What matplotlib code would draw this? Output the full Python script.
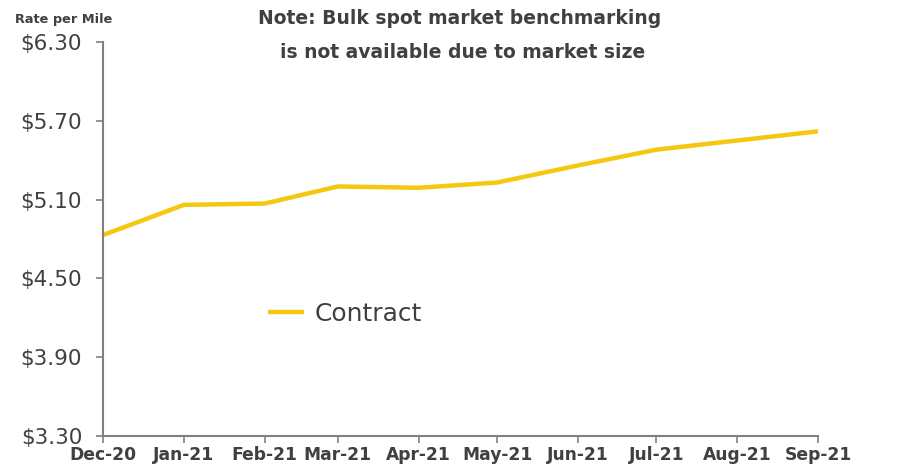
import matplotlib
matplotlib.use("Agg")
import matplotlib.pyplot as plt
import datetime as dt

months = ["Dec-20", "Jan-21", "Feb-21", "Mar-21", "Apr-21", "May-21",
          "Jun-21", "Jul-21", "Aug-21", "Sep-21"]
dates = [dt.date(2020, 12, 1), dt.date(2021, 1, 1), dt.date(2021, 2, 1),
         dt.date(2021, 3, 1), dt.date(2021, 4, 1), dt.date(2021, 5, 1),
         dt.date(2021, 6, 1), dt.date(2021, 7, 1), dt.date(2021, 8, 1),
         dt.date(2021, 9, 1)]
contract = [4.83, 5.06, 5.07, 5.20, 5.19, 5.23, 5.36, 5.48, 5.55, 5.62]
yticks = [3.30, 3.90, 4.50, 5.10, 5.70, 6.30]
ytick_labels = ["$3.30", "$3.90", "$4.50", "$5.10", "$5.70", "$6.30"]

plt.rcParams['font.family'] = ['DejaVu Sans']
gray = "#404040"
gold = "#F5C710"

fig = plt.figure(figsize=(9.16, 4.69), dpi=100)
ax = fig.add_axes([103/916, 33/469, 715/916, 394/469])
ax.plot(dates, contract, color=gold, lw=3.2, solid_capstyle='butt', label="Contract")

ax.set_xlim(dates[0], dates[-1])
ax.set_ylim(3.30, 6.30)
ax.set_xticks(dates)
ax.set_xticklabels(months, fontsize=12.3, fontweight='bold', color=gray)
ax.set_yticks(yticks)
ax.set_yticklabels(ytick_labels, fontsize=15.5, color=gray)
for s in ["top", "right"]:
    ax.spines[s].set_visible(False)
for s in ["left", "bottom"]:
    ax.spines[s].set_color("#7f7f7f")
    ax.spines[s].set_linewidth(1.5)
ax.tick_params(axis='both', colors="#7f7f7f", width=1.2, length=5)
ax.tick_params(axis='x', pad=2, labelcolor=gray)
ax.tick_params(axis='y', pad=10, labelcolor=gray)

fig.text(15/916, 1 - 19/469, "Rate per Mile", fontsize=9.3, fontweight='bold',
         color=gray, va='center', ha='left')
fig.text(460/916, 1 - 18/469, "Note: Bulk spot market benchmarking",
         fontsize=13.5, fontweight='bold', color=gray, ha='center', va='center')
fig.text(463/916, 1 - 53/469, "is not available due to market size",
         fontsize=13.5, fontweight='bold', color=gray, ha='center', va='center')

leg = ax.legend(loc='center left', bbox_to_anchor=(165/715, (436 - 314)/394),
                frameon=False, fontsize=18, handlelength=1.45, handletextpad=0.4,
                borderaxespad=0, borderpad=0)
for t in leg.get_texts():
    t.set_color(gray)

fig.savefig("out.png", dpi=100)
